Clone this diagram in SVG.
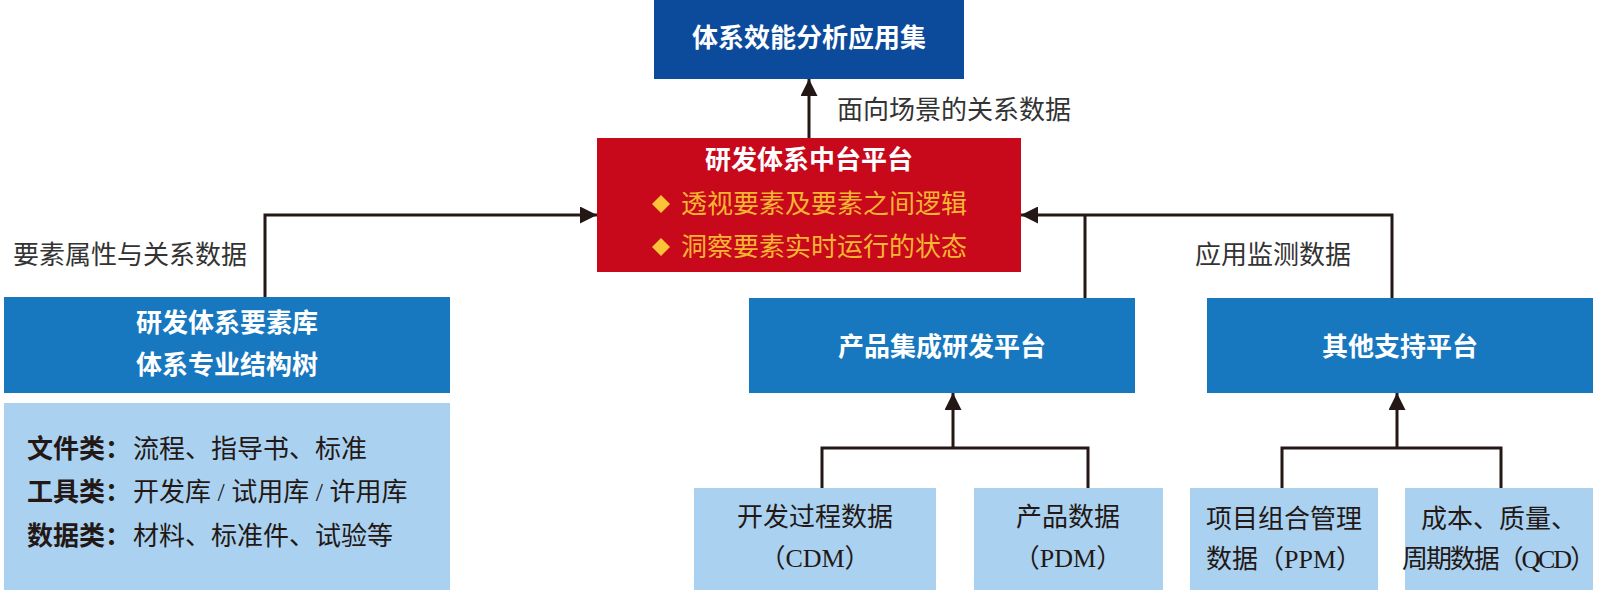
<svg xmlns="http://www.w3.org/2000/svg" width="1600" height="595" viewBox="0 0 1600 595">
<style>
.bold{font-family:"Noto Sans CJK SC","Noto Sans",sans-serif;font-weight:bold;font-size:26px;}
.wt{fill:#ffffff;}
.body{font-family:"Liberation Serif","Noto Sans CJK SC",serif;font-size:26px;fill:#231815;}
.lbl{font-family:"Liberation Serif","Noto Sans CJK SC",serif;font-size:26px;fill:#333333;}
.bul{font-family:"Liberation Serif","Noto Sans CJK SC",serif;font-size:26px;fill:#F7B531;}
.conn{fill:none;stroke:#231815;stroke-width:3;}
.mid{text-anchor:middle;}
</style>
<defs>
<marker id="arr" viewBox="0 0 10 10" refX="10" refY="5" markerUnits="userSpaceOnUse" markerWidth="22" markerHeight="17" orient="auto">
<path d="M0,0 L10,5 L0,10 z" fill="#231815"/>
</marker>
</defs>
<rect width="1600" height="595" fill="#ffffff"/>

<g id="connectors">
<path class="conn" d="M809,138 V79" marker-end="url(#arr)"/>
<path class="conn" d="M265,297 V215 H597" marker-end="url(#arr)"/>
<path class="conn" d="M1392,298 V215 H1021" marker-end="url(#arr)"/>
<path class="conn" d="M1085,298 V215"/>
<path class="conn" d="M822,488 V448 H1088 V488"/>
<path class="conn" d="M953,448 V393" marker-end="url(#arr)"/>
<path class="conn" d="M1282,488 V448 H1501 V488"/>
<path class="conn" d="M1397,448 V393" marker-end="url(#arr)"/>
</g>

<g id="labels">
<text class="lbl" x="837" y="119">面向场景的关系数据</text>
<text class="lbl" x="13" y="264">要素属性与关系数据</text>
<text class="lbl" x="1195" y="264">应用监测数据</text>
</g>

<g id="node-top">
<rect x="654" y="0" width="310" height="79" fill="#0C4A9C"/>
<text class="bold wt mid" x="809" y="47">体系效能分析应用集</text>
</g>

<g id="node-center">
<rect x="597" y="138" width="424" height="134" fill="#C8091C"/>
<text class="bold wt mid" x="809" y="169">研发体系中台平台</text>
<path d="M661,195 L670,204 L661,213 L652,204 z" fill="#FBC436"/>
<text class="bul" x="681" y="213">透视要素及要素之间逻辑</text>
<path d="M661,238 L670,247 L661,256 L652,247 z" fill="#FBC436"/>
<text class="bul" x="681" y="256">洞察要素实时运行的状态</text>
</g>

<g id="node-library">
<rect x="4" y="297" width="446" height="96" fill="#1778C0"/>
<text class="bold wt mid" x="227" y="332">研发体系要素库</text>
<text class="bold wt mid" x="227" y="374">体系专业结构树</text>
</g>

<g id="node-library-detail">
<rect x="4" y="403" width="446" height="187" fill="#AAD2F0"/>
<text class="bold" x="27" y="458" fill="#231815">文件类：</text>
<text class="body" x="133" y="458">流程、指导书、标准</text>
<text class="bold" x="27" y="501" fill="#231815">工具类：</text>
<text class="body" x="133" y="501">开发库 / 试用库 / 许用库</text>
<text class="bold" x="27" y="545" fill="#231815">数据类：</text>
<text class="body" x="133" y="545">材料、标准件、试验等</text>
</g>

<g id="node-ipd">
<rect x="749" y="298" width="386" height="95" fill="#1778C0"/>
<text class="bold wt mid" x="942" y="356">产品集成研发平台</text>
</g>

<g id="node-other">
<rect x="1207" y="298" width="386" height="95" fill="#1778C0"/>
<text class="bold wt mid" x="1400" y="356">其他支持平台</text>
</g>

<g id="node-cdm">
<rect x="694" y="488" width="242" height="102" fill="#AAD2F0"/>
<text class="body mid" x="815" y="526">开发过程数据</text>
<text class="body mid" x="815" y="567">（CDM）</text>
</g>

<g id="node-pdm">
<rect x="974" y="488" width="189" height="102" fill="#AAD2F0"/>
<text class="body mid" x="1068" y="526">产品数据</text>
<text class="body mid" x="1068" y="567">（PDM）</text>
</g>

<g id="node-ppm">
<rect x="1190" y="488" width="188" height="102" fill="#AAD2F0"/>
<text class="body mid" x="1284" y="528">项目组合管理</text>
<text class="body mid" x="1284" y="568">数据（PPM）</text>
</g>

<g id="node-qcd">
<rect x="1405" y="488" width="188" height="102" fill="#AAD2F0"/>
<text class="body mid" x="1499" y="528">成本、质量、</text>
<text class="body mid" x="1499" y="568" textLength="194" lengthAdjust="spacing">周期数据（QCD）</text>
</g>
</svg>
